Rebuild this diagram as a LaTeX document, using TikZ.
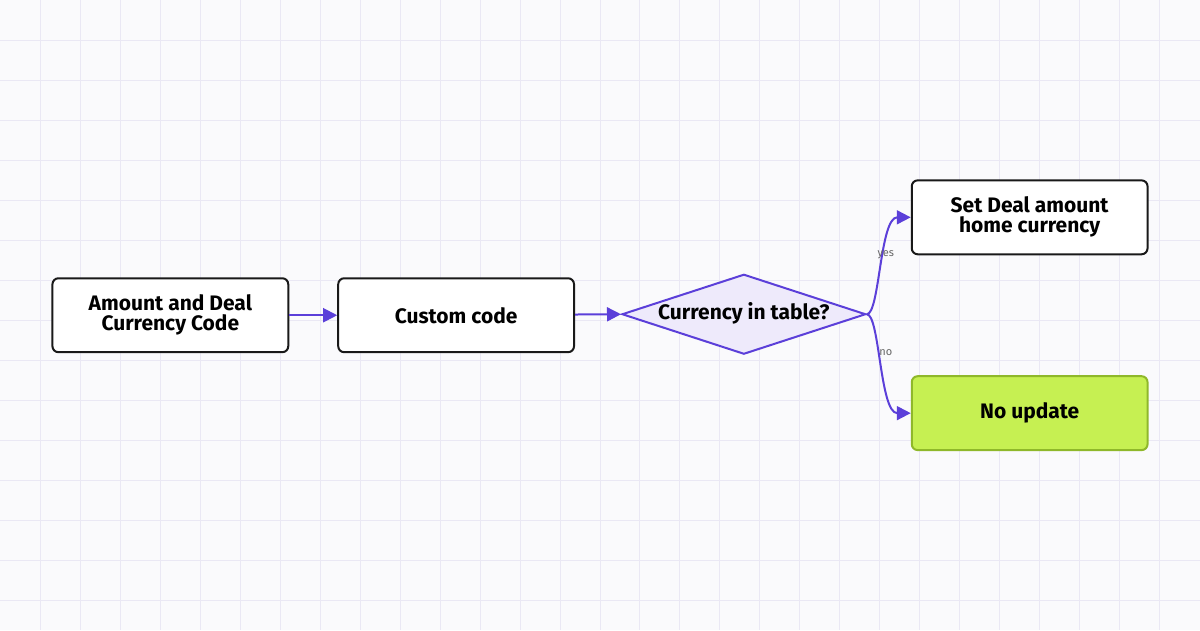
\documentclass[tikz,border=0pt]{standalone}
\usepackage{fontspec}
\setmainfont{Fira Sans}
\usetikzlibrary{shapes.geometric,arrows.meta}
\definecolor{flowline}{RGB}{91,63,217}
\definecolor{decfill}{RGB}{238,234,251}
\definecolor{okfill}{RGB}{198,240,82}
\definecolor{okline}{RGB}{143,184,42}
\definecolor{gridline}{RGB}{234,232,244}
\definecolor{bgfill}{RGB}{250,250,252}
\tikzset{every picture/.style={line width=0.75pt}}
\tikzset{
  step box/.style={draw=black!90,line width=2pt,rounded corners=6pt,fill=white,minimum width=236pt,minimum height=74pt,align=center,font=\bfseries\fontsize{21}{20}\selectfont,inner sep=0pt},
  flow/.style={draw=flowline,line width=2pt,-{Triangle[length=14pt,width=14pt]}},
  edge label/.style={font=\fontsize{11}{12}\selectfont,text=black!60}
}
\begin{document}
\begin{tikzpicture}[x=1pt,y=1pt,yscale=-1]
% background and grid
\fill[bgfill] (0,0) rectangle (1200,630);
\foreach \gx in {40,80,...,1160} \draw[gridline,line width=1pt] (\gx,0) -- (\gx,630);
\foreach \gy in {40,80,...,600} \draw[gridline,line width=1pt] (0,\gy) -- (1200,\gy);
\useasboundingbox (0,0) rectangle (1200,630);

% Boxes
\node[step box] (amount) at (170,315) {Amount and Deal\\Currency Code};
\node[step box] (custom) at (456,315) {Custom code};
\node[diamond,draw=flowline,fill=decfill,line width=2pt,minimum width=244pt,minimum height=80pt,aspect=3,inner sep=0pt,font=\bfseries\fontsize{21}{20}\selectfont] (check) at (744,314) {};
\node[font=\bfseries\fontsize{21}{20}\selectfont] (checktext) at (744,313) {Currency in table?};
\node[step box] (setamount) at (1030,217) {Set Deal amount\\home currency};
\node[step box,fill=okfill,draw=okline] (noupdate) at (1030,413) {No update};

% Connectors
\draw[flow] (amount) -- (custom);
\draw[flow] (custom) -- (check.west);
\draw[flow] (check.east) .. controls (880,314) and (880,217) .. (setamount.west);
\draw[flow] (check.east) .. controls (880,314) and (880,413) .. (noupdate.west);

% Labels
\node[edge label] (yeslabel) at (886,254) {yes};
\node[edge label] (nolabel) at (886,352) {no};
\end{tikzpicture}
\end{document}
